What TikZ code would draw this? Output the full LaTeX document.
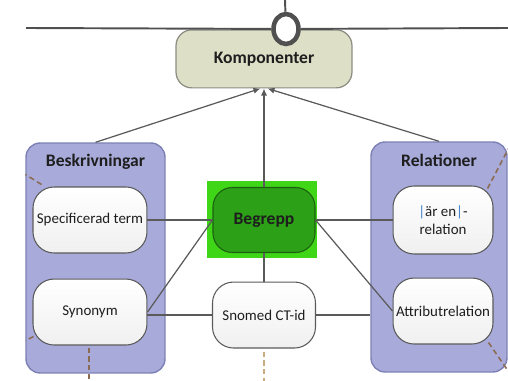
\documentclass[tikz,border=0pt]{standalone}
\usepackage{fontspec}
\setmainfont{Carlito}
\usetikzlibrary{shapes.geometric, arrows.meta, positioning}
\definecolor{groupfill}{RGB}{168,171,218}
\definecolor{groupline}{RGB}{124,128,180}
\definecolor{compfill}{RGB}{221,223,199}
\definecolor{compline}{RGB}{140,141,130}
\definecolor{marker}{RGB}{62,214,22}
\definecolor{coregreen}{RGB}{44,160,22}
\definecolor{coreline}{RGB}{30,95,18}
\definecolor{textdark}{RGB}{30,30,30}
\definecolor{barblue}{RGB}{60,130,200}
\definecolor{dashbrown}{RGB}{139,107,82}
\definecolor{dashtan}{RGB}{201,173,128}
\definecolor{linkgray}{RGB}{90,90,90}
\definecolor{portgray}{RGB}{80,80,80}
\tikzstyle{group} = [draw=groupline, fill=groupfill, rounded corners=8pt, line width=0.8pt]
\tikzstyle{title} = [font=\bfseries\fontsize{10}{12}\selectfont, text=textdark, inner sep=0pt]
\tikzstyle{item} = [draw=linkgray, top color=white, bottom color=black!6, rounded corners=12pt, line width=0.6pt, minimum width=2.28cm, minimum height=1.32cm, align=center, inner sep=2pt, font=\fontsize{8.5}{10.5}\selectfont, text=textdark]
\tikzstyle{core} = [draw=coreline, fill=coregreen, rounded corners=11pt, line width=0.6pt, minimum width=2.04cm, minimum height=1.3cm, font=\bfseries\fontsize{10}{12}\selectfont, text=textdark]
\tikzstyle{comp} = [draw=compline, fill=compfill, rounded corners=9pt, line width=0.7pt, minimum width=3.52cm, minimum height=1.16cm, font=\bfseries\fontsize{10}{12}\selectfont, text=textdark]
\tikzstyle{link} = [draw=linkgray, line width=0.7pt]
\tikzstyle{rail} = [draw=portgray, line width=1.1pt]
\tikzstyle{dashline} = [draw=dashbrown, line width=0.9pt, dash pattern=on 3pt off 2pt]

\begin{document}
\begin{tikzpicture}[x=0.02cm, y=-0.02cm, >={Latex[length=4pt,width=3.5pt]}]
  \useasboundingbox (0,0) rectangle (508,381);
  % groups
  \node[group, minimum width=2.78cm, minimum height=4.6cm] (besk) at (95.5,258) {};
  \node[group, minimum width=2.72cm, minimum height=4.6cm] (rel) at (439,257) {};
  \node[title, below=0.24cm of besk.north] (beskTitle) {Beskrivningar};
  \node[title, below=0.24cm of rel.north] (relTitle) {Relationer};
  % begrepp with marker behind
  \fill[marker] (207,181) rectangle (317,258);
  \node[core] (begrepp) at (264,220) {Begrepp};
  \node[comp, above=1.97cm of begrepp] (komp) {Komponenter};
  \node[item, below=0.57cm of begrepp, minimum width=2.06cm] (snomed) {Snomed CT-id};
  \node[item, left=1.3cm of begrepp] (spec) {Specificerad term};
  \node[item, below=0.5cm of spec] (synonym) {Synonym};
  \node[item, right=1.54cm of begrepp, minimum width=2cm, minimum height=1.36cm] (arEn)
    {{\color{barblue}|}är en{\color{barblue}|}-\\relation};
  \node[item, below=0.46cm of arEn, minimum width=2cm, inner sep=1pt] (attr) {Attributrelation};
  % connectors
  \draw[link] (spec) -- (begrepp);
  \draw[link] (synonym.east) -- (begrepp.west);
  \draw[link] (synonym.east |- snomed) -- (snomed);
  \draw[link] (begrepp.east) -- (arEn.west);
  \draw[link] (begrepp.east) -- (attr.west);
  \draw[link] (begrepp) -- (snomed);
  \draw[link] (snomed.east) -- (snomed.east -| rel.west);
  \draw[link,->] (begrepp) -- (komp);
  \draw[link,->] (besk.north) -- ([xshift=-2pt]komp.south);
  \draw[link,->] (rel.north) -- ([xshift=2pt]komp.south);
  % dashed stubs
  \draw[dashline] (spec.north west) ++(9,-2) -- ++(-16,-10);
  \draw[dashline] (synonym.south west) ++(1,-9) -- ++(-8,4);
  \draw[dashline] (synonym.south) ++(-1,2) -- ++(0,36);
  \draw[dashline, draw=dashtan] (snomed.south) ++(0,3) -- ++(0,33);
  \draw[dashline] (arEn.north east) ++(-6,3) -- ++(21,-40);
  \draw[dashline] (attr.south east) ++(-5,-2) -- ++(20,29);
  % port on top
  \coordinate (railL) at (26,28);
  \coordinate (railR) at (508,28);
  \coordinate (stem) at (285,0);
  \node[ellipse, draw=portgray, line width=2.6pt, fill=white, minimum width=0.5cm, minimum height=0.6cm, inner sep=0pt] (port) at (286,29) {};
  \draw[rail] (railL) -- (port);
  \draw[rail] (port) -- (railR);
  \draw[rail] (stem) -- (port);
\end{tikzpicture}
\end{document}
